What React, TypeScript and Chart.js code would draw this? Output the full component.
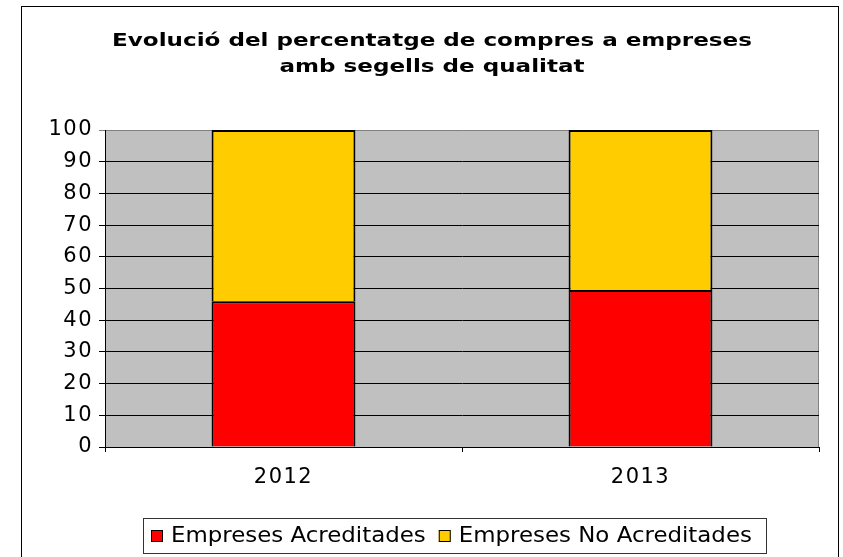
import React, { useEffect, useRef } from "react";
import { Chart, registerables } from "chart.js";

Chart.register(...registerables);

const categories = ["2012", "2013"];
const acreditades = [46, 49.5];
const noAcreditades = [54, 50.5];
const seriesLabels = ["Empreses Acreditades", "Empreses No Acreditades"];
const seriesColors = ["#FF0000", "#FFCC00"];
const titleLines = [
  "Evolució del percentatge de compres a empreses",
  "amb segells de qualitat",
];
const FONT = '"DejaVu Sans", Verdana, sans-serif';

function wideText(ctx: any, text: string, x: number, y: number, align: string, stretch: number) {
  const w = ctx.measureText(text).width * stretch;
  const left = align === "center" ? x - w / 2 : x;
  ctx.save();
  ctx.textAlign = "left";
  ctx.translate(left, y);
  ctx.scale(stretch, 1);
  ctx.fillText(text, 0, 0);
  ctx.restore();
  return w;
}

const decorPlugin = {
  id: "decor",
  beforeDraw(chart: any) {
    const { ctx, chartArea } = chart;
    ctx.save();
    ctx.fillStyle = "#FFFFFF";
    ctx.fillRect(0, 0, chart.width, chart.height);
    ctx.strokeStyle = "#000000";
    ctx.lineWidth = 1;
    ctx.strokeRect(21.5, 6.5, 817, 620);
    ctx.fillStyle = "#C0C0C0";
    ctx.fillRect(
      chartArea.left,
      chartArea.top,
      chartArea.right - chartArea.left,
      chartArea.bottom - chartArea.top
    );
    ctx.strokeStyle = "#808080";
    ctx.beginPath();
    ctx.moveTo(chartArea.right - 0.5, chartArea.top);
    ctx.lineTo(chartArea.right - 0.5, chartArea.bottom);
    ctx.stroke();
    ctx.restore();
    (ctx as any).letterSpacing = "1.5px";
  },
  afterDraw(chart: any) {
    const { ctx } = chart;
    ctx.save();
    (ctx as any).letterSpacing = "0px";
    // title
    ctx.fillStyle = "#000";
    ctx.font = `bold 18px ${FONT}`;
    ctx.textBaseline = "alphabetic";
    wideText(ctx, titleLines[0], 432, 46, "center", 1.28);
    wideText(ctx, titleLines[1], 432, 72, "center", 1.28);
    // legend
    ctx.strokeStyle = "#333";
    ctx.lineWidth = 1;
    ctx.strokeRect(143.5, 518.5, 623, 35);
    ctx.font = `21px ${FONT}`;
    ctx.textBaseline = "middle";
    let x = 151;
    chart.data.datasets.forEach((ds: any) => {
      ctx.fillStyle = ds.backgroundColor;
      ctx.fillRect(x, 530, 12, 12);
      ctx.strokeStyle = "#000";
      ctx.strokeRect(x + 0.5, 530.5, 11, 11);
      ctx.fillStyle = "#000";
      const w = wideText(ctx, ds.label, x + 20, 537, "left", 1.09);
      x += 20 + w + 13;
    });
    ctx.restore();
  },
};

export default function App() {
  const ref = useRef<HTMLCanvasElement>(null);
  useEffect(() => {
    if (!ref.current) return;
    const chart = new Chart(ref.current, {
      type: "bar",
      data: {
        labels: categories,
        datasets: [
          {
            label: seriesLabels[0],
            data: acreditades,
            backgroundColor: seriesColors[0],
            borderColor: "#000",
            borderWidth: 2,
            barPercentage: 0.403,
            categoryPercentage: 1,
          },
          {
            label: seriesLabels[1],
            data: noAcreditades,
            backgroundColor: seriesColors[1],
            borderColor: "#000",
            borderWidth: 2,
            barPercentage: 0.403,
            categoryPercentage: 1,
          },
        ],
      },
      options: {
        responsive: false,
        animation: false,
        layout: { padding: { top: 130, right: 24, left: 0, bottom: 0 } },
        plugins: {
          legend: { display: false },
          title: { display: false },
          tooltip: { enabled: false },
        },
        scales: {
          x: {
            stacked: true,
            afterFit: (s: any) => {
              s.height = 110;
            },
            grid: {
              offset: true,
              drawOnChartArea: false,
              tickLength: 5,
              color: "#000",
            },
            border: { color: "#000" },
            ticks: { color: "#000", font: { family: FONT, size: 21 }, padding: 13 },
          },
          y: {
            stacked: true,
            min: 0,
            max: 100,
            afterFit: (s: any) => {
              s.width = 105;
            },
            grid: {
              color: (c: any) => (c.tick && c.tick.value === 100 ? "#808080" : "#000"),
              tickLength: 6,
            },
            border: { color: "#000" },
            ticks: {
              stepSize: 10,
              color: "#000",
              font: { family: FONT, size: 21 },
              padding: 6,
            },
          },
        },
      },
      plugins: [decorPlugin],
    });
    return () => chart.destroy();
  }, []);
  return (
    <div style={{ position: "absolute", left: 0, top: 0, width: 843, height: 557 }}>
      <canvas ref={ref} width={843} height={557} style={{ display: "block" }} />
    </div>
  );
}
